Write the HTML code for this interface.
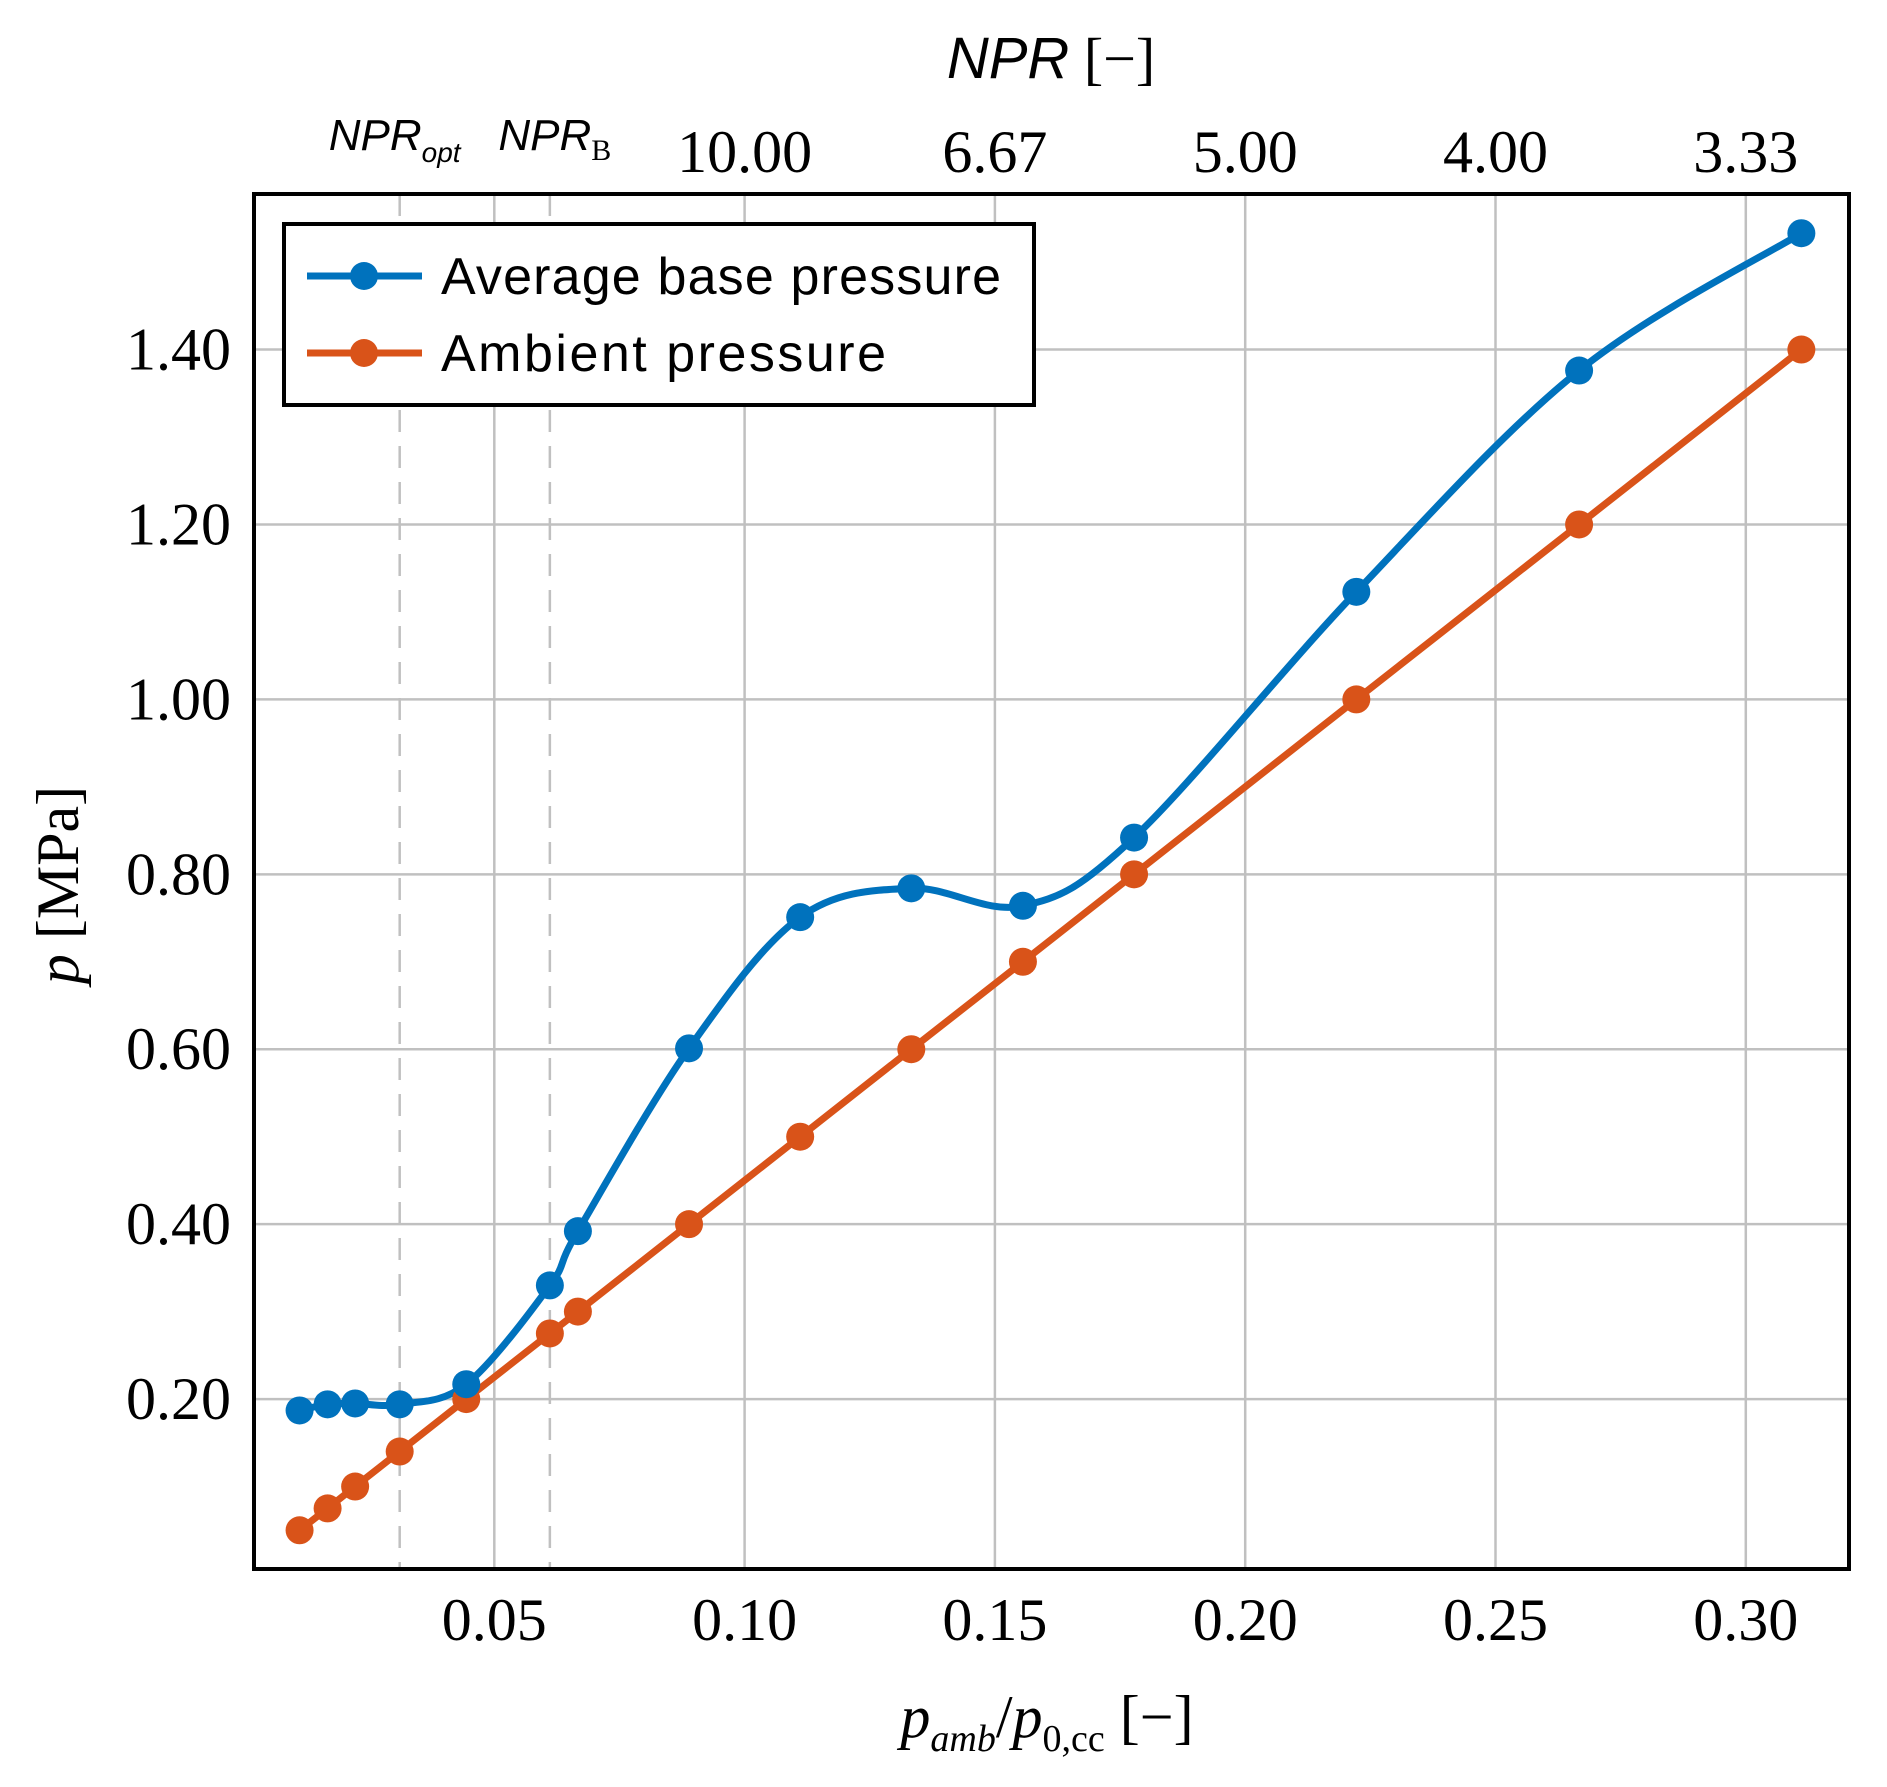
<!DOCTYPE html>
<html><head><meta charset="utf-8"><style>
html,body{margin:0;padding:0;background:#fff}
svg{display:block}
</style></head><body>
<svg id="chart" width="1887" height="1787" viewBox="0 0 1887 1787" xmlns="http://www.w3.org/2000/svg"></svg>
<script>
const xTicks=[0.05,0.10,0.15,0.20,0.25,0.30];
const xTickLabels=["0.05","0.10","0.15","0.20","0.25","0.30"];
const yTicks=[0.2,0.4,0.6,0.8,1.0,1.2,1.4];
const yTickLabels=["0.20","0.40","0.60","0.80","1.00","1.20","1.40"];
const topTicks=[0.1,0.15,0.2,0.25,0.3];
const topTickLabels=["10.00","6.67","5.00","4.00","3.33"];
const xRatio=[0.0111,0.0167,0.0222,0.0311,0.0444,0.0611,0.0667,0.0889,0.1111,0.1333,0.1556,0.1778,0.2222,0.2667,0.3111];
const ambient=[0.05,0.075,0.10,0.14,0.20,0.275,0.30,0.40,0.50,0.60,0.70,0.80,1.00,1.20,1.40];
const baseP=[0.187,0.194,0.195,0.194,0.217,0.330,0.392,0.601,0.751,0.784,0.764,0.842,1.123,1.376,1.533];
const nprOpt=0.0311, nprB=0.0611;

const L=254,R=1849,T=194,B=1569;
const X=v=>244+v*5006;
const Y=v=>1574-v*874.6;
const svg=document.getElementById('chart');
const NS='http://www.w3.org/2000/svg';
function el(tag,attrs,parent,text){const e=document.createElementNS(NS,tag);for(const k in attrs)e.setAttribute(k,attrs[k]);if(text!==undefined)e.textContent=text;(parent||svg).appendChild(e);return e;}
const serif='"Liberation Serif", serif', sans='"Liberation Sans", sans-serif';

xTicks.forEach(v=>{const g=el('line',{x1:X(v),x2:X(v),y1:T,y2:B,stroke:'#c0c0c0','stroke-width':2.5});

});
yTicks.forEach(v=>{const g=el('line',{x1:L,x2:R,y1:Y(v),y2:Y(v),stroke:'#c0c0c0','stroke-width':2.5});

});
[nprOpt,nprB].forEach(v=>{const d=el('line',{x1:X(v),x2:X(v),y1:T,y2:B,stroke:'#c0c0c0','stroke-width':2.5,'stroke-dasharray':'22,14'});

});

const amb=el('polyline',{points:xRatio.map((x,i)=>X(x)+','+Y(ambient[i])).join(' '),fill:'none',stroke:'#d95319','stroke-width':7,'stroke-linejoin':'round'});


const pts=xRatio.map((x,i)=>[X(x),Y(baseP[i])]);
let d='M'+pts[0][0]+','+pts[0][1];
for(let i=0;i<pts.length-1;i++){const p0=pts[Math.max(0,i-1)],p1=pts[i],p2=pts[i+1],p3=pts[Math.min(pts.length-1,i+2)];
const c1=[p1[0]+(p2[0]-p0[0])/6,p1[1]+(p2[1]-p0[1])/6],c2=[p2[0]-(p3[0]-p1[0])/6,p2[1]-(p3[1]-p1[1])/6];
d+=' C'+c1+' '+c2+' '+p2;}
const bl=el('path',{d:d,fill:'none',stroke:'#0072bd','stroke-width':7});


xRatio.forEach((x,i)=>{const c=el('circle',{cx:X(x),cy:Y(ambient[i]),r:14,fill:'#d95319'});

});
xRatio.forEach((x,i)=>{const c=el('circle',{cx:X(x),cy:Y(baseP[i]),r:14,fill:'#0072bd'});

});

const box=el('rect',{x:L,y:T,width:R-L,height:B-T,fill:'none',stroke:'#000','stroke-width':4});



xTicks.forEach((v,i)=>{const t=el('text',{x:X(v),y:1640,'text-anchor':'middle','font-family':serif,'font-size':60},null,xTickLabels[i]);

});
yTicks.forEach((v,i)=>{const t=el('text',{x:231,y:Y(v)+20,'text-anchor':'end','font-family':serif,'font-size':60},null,yTickLabels[i]);

});
topTicks.forEach((v,i)=>{const t=el('text',{x:X(v),y:172,'text-anchor':'middle','font-family':serif,'font-size':60},null,topTickLabels[i]);

});
const t1=el('text',{x:X(nprOpt)-5,y:150,'text-anchor':'middle','font-family':sans,'font-size':44,'font-style':'italic'});


el('tspan',{},t1,'NPR');el('tspan',{'font-size':28,dy:12},t1,'opt');
const t2=el('text',{x:X(nprB)+5,y:150,'text-anchor':'middle','font-family':sans,'font-size':44,'font-style':'italic'});


el('tspan',{},t2,'NPR');el('tspan',{'font-size':30,dy:10,'font-style':'normal','font-family':serif},t2,'B');

const xt=el('text',{x:1047,y:1737,'text-anchor':'middle','font-family':serif,'font-size':60});


el('tspan',{'font-style':'italic'},xt,'p');el('tspan',{'font-style':'italic','font-size':38,dy:14},xt,'amb');
el('tspan',{dy:-14},xt,'/');el('tspan',{'font-style':'italic'},xt,'p');el('tspan',{'font-size':38,dy:14},xt,'0,cc');el('tspan',{dy:-14},xt,' [−]');
const yt=el('text',{x:0,y:0,'text-anchor':'middle','font-family':serif,'font-size':60,transform:'translate(78,885) rotate(-90)'});


el('tspan',{'font-style':'italic'},yt,'p');el('tspan',{},yt,' [MPa]');
const tt=el('text',{x:1051,y:78,'text-anchor':'middle','font-family':sans,'font-size':58});


el('tspan',{'font-style':'italic'},tt,'NPR');el('tspan',{'font-family':serif},tt,' [−]');

const lg=el('g',{});


el('rect',{x:284,y:224,width:750,height:181,fill:'#fff',stroke:'#000','stroke-width':4},lg);
[['#0072bd','Average base pressure',276],['#d95319','Ambient pressure',353]].forEach((e,i)=>{
const g=el('g',{},lg);


el('line',{x1:307,x2:422,y1:e[2],y2:e[2],stroke:e[0],'stroke-width':7},g);
el('circle',{cx:364,cy:e[2],r:14,fill:e[0]},g);
const tx=el('text',{x:441,y:e[2]+18,'font-family':sans,'font-size':52},g,e[1]);
if(i===0)tx.setAttribute('textLength','560');
if(i===1)tx.setAttribute('textLength','445');
});
</script>
</body></html>
